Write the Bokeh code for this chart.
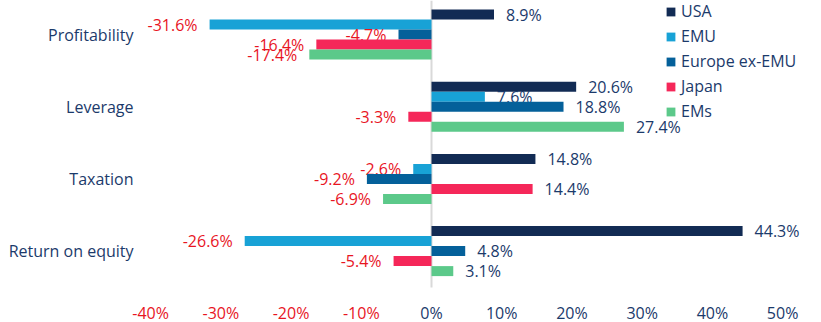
from bokeh.plotting import figure
from bokeh.models import (ColumnDataSource, Range1d, LinearAxis, FixedTicker,
                          Legend, LegendItem)
from bokeh.core.properties import value
from bokeh.embed import file_html
from bokeh.resources import INLINE

# ---- data ----
categories = ["Profitability", "Leverage", "Taxation", "Return on equity"]
series = ["USA", "EMU", "Europe ex-EMU", "Japan", "EMs"]
usa = [8.9, 20.6, 14.8, 44.3]
emu = [-31.6, 7.6, -2.6, -26.6]
europe_ex_emu = [-4.7, 18.8, -9.2, 4.8]
japan = [-16.4, -3.3, 14.4, -5.4]
ems = [-17.4, 27.4, -6.9, 3.1]
x_ticks = [-40, -30, -20, -10, 0, 10, 20, 30, 40, 50]
x_tick_labels = ["-40%", "-30%", "-20%", "-10%", "0%", "10%", "20%", "30%", "40%", "50%"]

values = [usa, emu, europe_ex_emu, japan, ems]
colors = ["#122B54", "#18A2D6", "#04609A", "#F52759", "#5CC98A"]
NAVY = "#1B3A6B"
RED = "#E8151F"
FONT = "Open Sans"

n_cat = len(categories)
cat_pos = [n_cat - 1 - i for i in range(n_cat)]  # top category highest
px_per_unit = 72.2
bar_h = 10 / px_per_unit
y_end = 3.471
y_axis_loc = y_end - 287 / px_per_unit
y_start = y_end - 322 / px_per_unit
px_per_pct = 632 / 90.0
x_start = -431 / px_per_pct
x_end = x_start + 821 / px_per_pct
x_axis_loc = x_start + 150 / px_per_pct

p = figure(width=821, height=322, output_backend="svg", toolbar_location=None,
           x_range=Range1d(x_start, x_end), y_range=Range1d(y_start, y_end),
           x_axis_location=None, y_axis_location=None,
           min_border_left=0, min_border_right=0,
           min_border_top=0, min_border_bottom=0)
p.outline_line_color = None
p.xgrid.visible = False
p.ygrid.visible = False
p.background_fill_color = "white"
p.border_fill_color = "white"

# zero line
p.segment(x0=[0], y0=[y_axis_loc], x1=[0], y1=[y_end], line_color="#D9D9D9", line_width=2)

items = []
for j, (name, vals, col) in enumerate(zip(series, values, colors)):
    off = (2 - j) * bar_h
    ys = [c + off for c in cat_pos]
    src = ColumnDataSource(dict(
        y=ys, right=vals,
        lab=[f"{v:.1f}%" for v in vals],
        tcol=[RED if v < 0 else NAVY for v in vals],
        align=["right" if v < 0 else "left" for v in vals],
        xoff=[-12 if v < 0 else 12 for v in vals],
    ))
    r = p.hbar(y="y", left=0, right="right", height=bar_h, source=src,
               fill_color=col, line_color=None)
    p.text(x="right", y="y", text="lab", source=src, text_color="tcol",
           text_align="align", x_offset="xoff", text_baseline="middle",
           text_font=value(FONT), text_font_size="16px")
    items.append(LegendItem(label=name, renderers=[r]))

legend = Legend(items=items, location=(665, 200), padding=0, margin=0,
                spacing=3, label_height=20, glyph_width=11, glyph_height=11,
                label_standoff=5, border_line_color=None,
                background_fill_alpha=0, label_text_font=FONT,
                label_text_font_size="16px", label_text_color=NAVY)
p.add_layout(legend)

# left category axis (fixed at the plot-area edge)
ya = LinearAxis(ticker=FixedTicker(ticks=cat_pos), fixed_location=x_axis_loc)
ya.major_label_overrides = {c: lab for c, lab in zip(cat_pos, categories)}
ya.axis_line_color = None
ya.major_tick_line_color = None
ya.minor_tick_line_color = None
ya.major_tick_out = 0
ya.major_tick_in = 0
ya.major_label_standoff = 17
ya.major_label_text_font = FONT
ya.major_label_text_font_size = "16px"
ya.major_label_text_color = NAVY
p.add_layout(ya, "left")

# bottom axes: negatives red, non-negatives navy
for ticks, colr in [([t for t in x_ticks if t < 0], RED), ([t for t in x_ticks if t >= 0], NAVY)]:
    ax = LinearAxis(ticker=FixedTicker(ticks=ticks), fixed_location=y_axis_loc)
    ax.major_label_overrides = {t: l for t, l in zip(x_ticks, x_tick_labels) if t in ticks}
    ax.axis_line_color = None
    ax.major_tick_line_color = None
    ax.minor_tick_line_color = None
    ax.major_tick_out = 0
    ax.major_tick_in = 0
    ax.major_label_standoff = 14
    ax.major_label_text_font = FONT
    ax.major_label_text_font_size = "16px"
    ax.major_label_text_color = colr
    p.add_layout(ax, "below")

open("out.html", "w").write(file_html(p, INLINE))
